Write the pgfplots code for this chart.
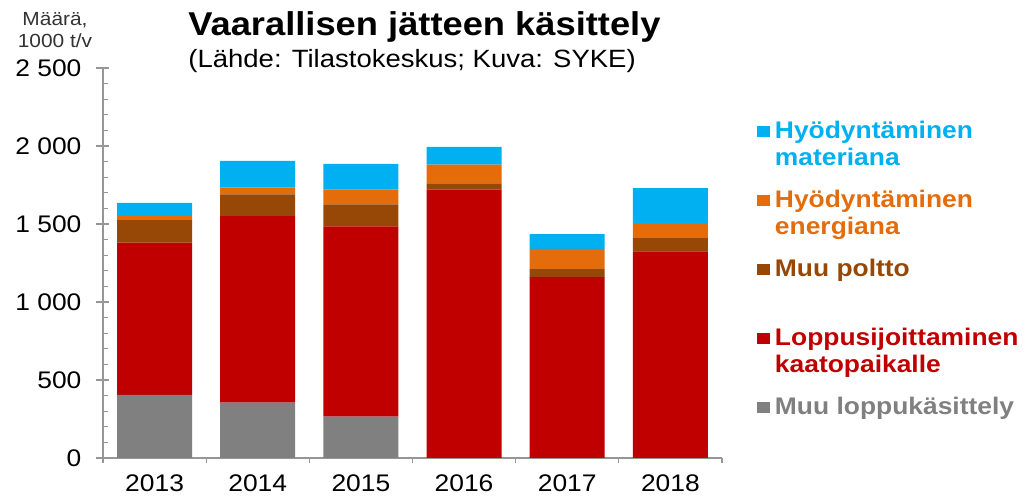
\documentclass[border=0pt]{standalone}
\usepackage{fontspec}
\setmainfont{Liberation Sans}[FakeStretch=1.1]
\usepackage{pgfplots}
\usepackage{pgfplotstable}
\pgfplotsset{compat=1.18}

\definecolor{cBlue}{RGB}{0,176,240}
\definecolor{cOrange}{RGB}{228,108,10}
\definecolor{cBrown}{RGB}{151,71,6}
\definecolor{cRed}{RGB}{192,0,0}
\definecolor{cGray}{RGB}{128,128,128}
\definecolor{axgray}{RGB}{150,150,150}

% two-line legend text, baseline on the first line
\newcommand{\lentry}[3]{\vtop{\hbox{\rule{0pt}{9pt}\textcolor{#1}{#2}}\hbox{\rule[-3pt]{0pt}{3pt}\textcolor{#1}{#3}}}}

\pgfplotstableread{
x gray red brown orange blue
0 405 975 145 25 85
1 355 1195 140 45 170
2 265 1220 140 95 165
3 0 1720 40 120 115
4 0 1160 50 130 95
5 0 1325 85 95 225
}\datatable

\pgfplotsset{
  sq/.style={fill=#1, draw=none,
    legend image code/.code={\fill[#1] (0pt,1pt) rectangle (6.5pt,6.5pt);}},
}

\begin{document}
\begin{tikzpicture}
\useasboundingbox (0,0) rectangle (511.5pt,248pt);

\begin{axis}[
  at={(51.5pt,19pt)}, anchor=south west,
  scale only axis, width=309.5pt, height=195pt,
  ybar stacked, bar width=37.5pt,
  xmin=-0.5, xmax=5.5, ymin=0, ymax=2500,
  axis x line*=bottom, axis y line*=left,
  axis line style={-, draw=axgray, line width=0.6pt},
  tick align=center,
  major tick length=6.5pt, minor tick length=2.75pt,
  tick style={axgray, line width=0.6pt},
  ytick={0,500,...,2500}, minor y tick num=4,
  minor y tick style={xshift=1.375pt},
  xtick={0,...,5}, xticklabels={2013,2014,2015,2016,2017,2018},
  major x tick style={draw=none},
  minor xtick={-0.5,0.5,...,5.5},
  minor x tick style={yshift=-1.375pt},
  tick label style={font=\fontsize{12}{14}\selectfont},
  yticklabel style={xshift=-4pt},
  xticklabel style={yshift=-1.5pt},
  /pgf/number format/assume math mode=true,
  /pgf/number format/1000 sep={\ },
  reverse legend,
  legend style={at={(1,1)}, anchor=north west, xshift=17.5pt, yshift=-26.5pt,
    draw=none, fill=none, inner sep=0pt, outer sep=0pt,
    row sep=24pt, column sep=2.5pt,
    cells={anchor=base west}, nodes={inner sep=0pt},
    font=\bfseries\fontsize{12}{13.5}\selectfont},
]
\addplot[sq=cGray] table[x=x, y=gray] {\datatable};
\addlegendentry{\lentry{cGray}{Muu loppukäsittely}{}}
\addplot[sq=cRed] table[x=x, y=red] {\datatable};
\addlegendentry{\lentry{cRed}{Loppusijoittaminen}{kaatopaikalle}}
\addplot[sq=cBrown] table[x=x, y=brown] {\datatable};
\addlegendentry{\lentry{cBrown}{Muu poltto}{}}
\addplot[sq=cOrange] table[x=x, y=orange] {\datatable};
\addlegendentry{\lentry{cOrange}{Hyödyntäminen}{energiana}}
\addplot[sq=cBlue] table[x=x, y=blue] {\datatable};
\addlegendentry{\lentry{cBlue}{Hyödyntäminen}{materiana}}
\end{axis}

\node[anchor=base west, inner sep=0pt, font=\bfseries\fontsize{16.5}{18}\selectfont]
  at (94pt,230pt) {Vaarallisen jätteen käsittely};
\node[anchor=base west, inner sep=0pt, font=\fontsize{12.5}{14}\selectfont]
  at (94pt,214pt) {(Lähde: Tilastokeskus; Kuva: SYKE)};
\node[anchor=base, inner sep=0pt, text=black!80, font=\fontsize{9.5}{11}\selectfont]
  at (27.5pt,235pt) {Määrä,};
\node[anchor=base, inner sep=0pt, text=black!80, font=\fontsize{9.5}{11}\selectfont]
  at (27.5pt,224pt) {1000 t/v};
\end{tikzpicture}
\end{document}
